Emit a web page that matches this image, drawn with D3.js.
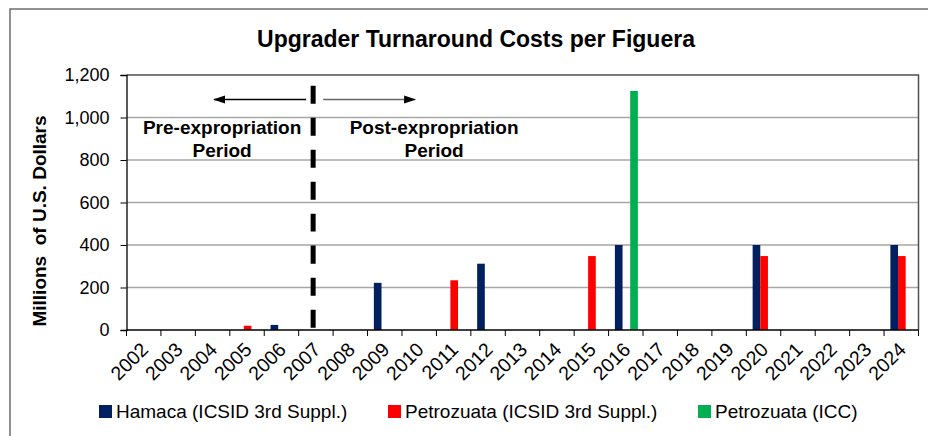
<script src="https://d3js.org/d3.v7.min.js"></script>
<style>
  body { margin: 0; background: #fff; }
  text { font-family: "Liberation Sans", Arial, sans-serif; fill: #000; }
  .grid line { stroke: #a6a6a6; stroke-width: 1.5; }
</style>
<svg id="chart" width="928" height="436"></svg>
<script>
  // data (millions of US$)
  const years = ["2002","2003","2004","2005","2006","2007","2008","2009","2010","2011","2012",
                 "2013","2014","2015","2016","2017","2018","2019","2020","2021","2022","2023","2024"]
  const seriesNames = ["Hamaca (ICSID 3rd Suppl.)", "Petrozuata (ICSID 3rd Suppl.)", "Petrozuata (ICC)"]
  const hamaca     = [0,0,0,0,24,0,0,222,0,0,312,0,0,0,400,0,0,0,400,0,0,0,400]
  const petroIcsid = [0,0,0,20,0,0,0,0,0,234,0,0,0,348,0,0,0,0,348,0,0,0,348]
  const petroIcc   = [0,0,0,0,0,0,0,0,0,0,0,0,0,0,1125,0,0,0,0,0,0,0,0]
  const yTicks = [0,200,400,600,800,1000,1200]
  const colors = ["#002060","#ff0000","#00b050"]

  const svg = d3.select("#chart")
  const plot = {left: 126.5, right: 918.5, top: 75, bottom: 330}

  const x0 = d3.scaleBand().domain(years).range([plot.left, plot.right]).padding(0)
  const x1 = d3.scaleBand().domain([0,1,2]).range([0, x0.bandwidth()])
    .paddingInner(0).paddingOuter(0.75).align(0.55)
  const y = d3.scaleLinear().domain([0,1200]).range([plot.bottom, plot.top])

  // outer frame
  svg.append("rect").attr("x", 10).attr("y", 9).attr("width", 940).attr("height", 450)
    .attr("fill", "none").attr("stroke", "#6e6e6e").attr("stroke-width", 1.5)

  // title
  svg.append("text").attr("x", 476).attr("y", 47).attr("text-anchor", "middle")
    .style("font-size", "23px").style("font-weight", "bold")
    .text("Upgrader Turnaround Costs per Figuera")

  // gridlines
  svg.append("g").attr("class", "grid")
    .selectAll("line").data(yTicks.filter(d => d > 0 && d < 1200)).join("line")
    .attr("x1", plot.left).attr("x2", plot.right)
    .attr("y1", d => y(d)).attr("y2", d => y(d))

  // plot border top / right
  svg.append("path")
    .attr("d", `M${plot.left},${y(1200)}H${plot.right}V${plot.bottom}`)
    .attr("fill", "none").attr("stroke", "#505050").attr("stroke-width", 1.5)

  // bars
  const table = years.map((yr, i) => ({year: yr, values: [hamaca[i], petroIcsid[i], petroIcc[i]]}))
  svg.append("g").selectAll("g").data(table).join("g")
    .attr("transform", d => `translate(${x0(d.year)},0)`)
    .selectAll("rect").data(d => d.values.map((v, k) => ({k, v})).filter(e => e.v > 0)).join("rect")
    .attr("x", e => x1(e.k)).attr("width", x1.bandwidth())
    .attr("y", e => y(e.v)).attr("height", e => y(0) - y(e.v))
    .attr("fill", e => colors[e.k])

  // y axis
  const yAxis = svg.append("g").attr("transform", `translate(${plot.left},0)`)
    .call(d3.axisLeft(y).tickValues(yTicks).tickSize(6).tickPadding(11).tickFormat(d3.format(",")))
  yAxis.select(".domain").attr("stroke", "#000").attr("stroke-width", 1.3)
  yAxis.selectAll("text").style("font-size", "18px").attr("fill", "#000")
  yAxis.selectAll("line").attr("stroke", "#000")

  svg.append("text")
    .attr("transform", `translate(46,221) rotate(-90)`)
    .attr("text-anchor", "middle").style("white-space", "pre")
    .style("font-size", "19px").style("font-weight", "bold")
    .text("Millions  of U.S. Dollars")

  // x axis
  const xg = svg.append("g")
  xg.append("line").attr("x1", plot.left).attr("x2", plot.right)
    .attr("y1", plot.bottom).attr("y2", plot.bottom).attr("stroke", "#000").attr("stroke-width", 1.3)
  xg.selectAll(".tick").data(years.map(d => x0(d)).concat([plot.right])).join("line")
    .attr("x1", d => d).attr("x2", d => d)
    .attr("y1", plot.bottom).attr("y2", plot.bottom + 6).attr("stroke", "#000")
  xg.selectAll("text").data(years).join("text")
    .attr("transform", d => `translate(${x0(d) + x0.bandwidth() / 2 + 1},${plot.bottom + 16}) rotate(-45)`)
    .attr("text-anchor", "end").attr("dy", "0.35em")
    .style("font-size", "19.5px")
    .text(d => d)

  // expropriation marker
  const expropriation = {year: "2007", frac: 0.42, top: 1150, arrowAt: 1085}
  const lx = x0(expropriation.year) + expropriation.frac * x0.bandwidth()
  svg.append("line").attr("x1", lx).attr("x2", lx)
    .attr("y1", y(expropriation.top)).attr("y2", plot.bottom)
    .attr("stroke", "#000").attr("stroke-width", 5).attr("stroke-dasharray", "18,14")

  const defs = svg.append("defs")
  defs.append("marker").attr("id", "head").attr("viewBox", "0 0 12 10")
    .attr("refX", 11).attr("refY", 5).attr("markerWidth", 12).attr("markerHeight", 10)
    .attr("markerUnits", "userSpaceOnUse").attr("orient", "auto")
    .append("path").attr("d", "M0,1L12,5L0,9Z").attr("fill", "#000")

  const ay = y(expropriation.arrowAt)
  svg.append("line").attr("x1", lx - 7).attr("x2", lx - 99).attr("y1", ay).attr("y2", ay)
    .attr("stroke", "#000").attr("stroke-width", 1.5).attr("marker-end", "url(#head)")
  svg.append("line").attr("x1", lx + 10).attr("x2", lx + 102).attr("y1", ay).attr("y2", ay)
    .attr("stroke", "#666").attr("stroke-width", 1.5).attr("marker-end", "url(#head)")

  const notes = [
    {cx: lx - 91, lines: ["Pre-expropriation", "Period"]},
    {cx: lx + 121, lines: ["Post-expropriation", "Period"]}
  ]
  notes.forEach(n => {
    svg.append("text").attr("x", n.cx).attr("y", plot.top + 59).attr("text-anchor", "middle")
      .style("font-size", "19px").style("font-weight", "bold")
      .selectAll("tspan").data(n.lines).join("tspan")
      .attr("x", n.cx).attr("dy", (d, i) => i === 0 ? 0 : 23).text(d => d)
  })

  // legend
  const legendX = [99, 388, 698]
  const lg = svg.append("g").selectAll("g").data(seriesNames).join("g")
    .attr("transform", (d, i) => `translate(${legendX[i]},405)`)
  lg.append("rect").attr("width", 13).attr("height", 13).attr("fill", (d, i) => colors[i])
  lg.append("text").attr("x", 17).attr("y", 13).style("font-size", "19px").text(d => d)
</script>
